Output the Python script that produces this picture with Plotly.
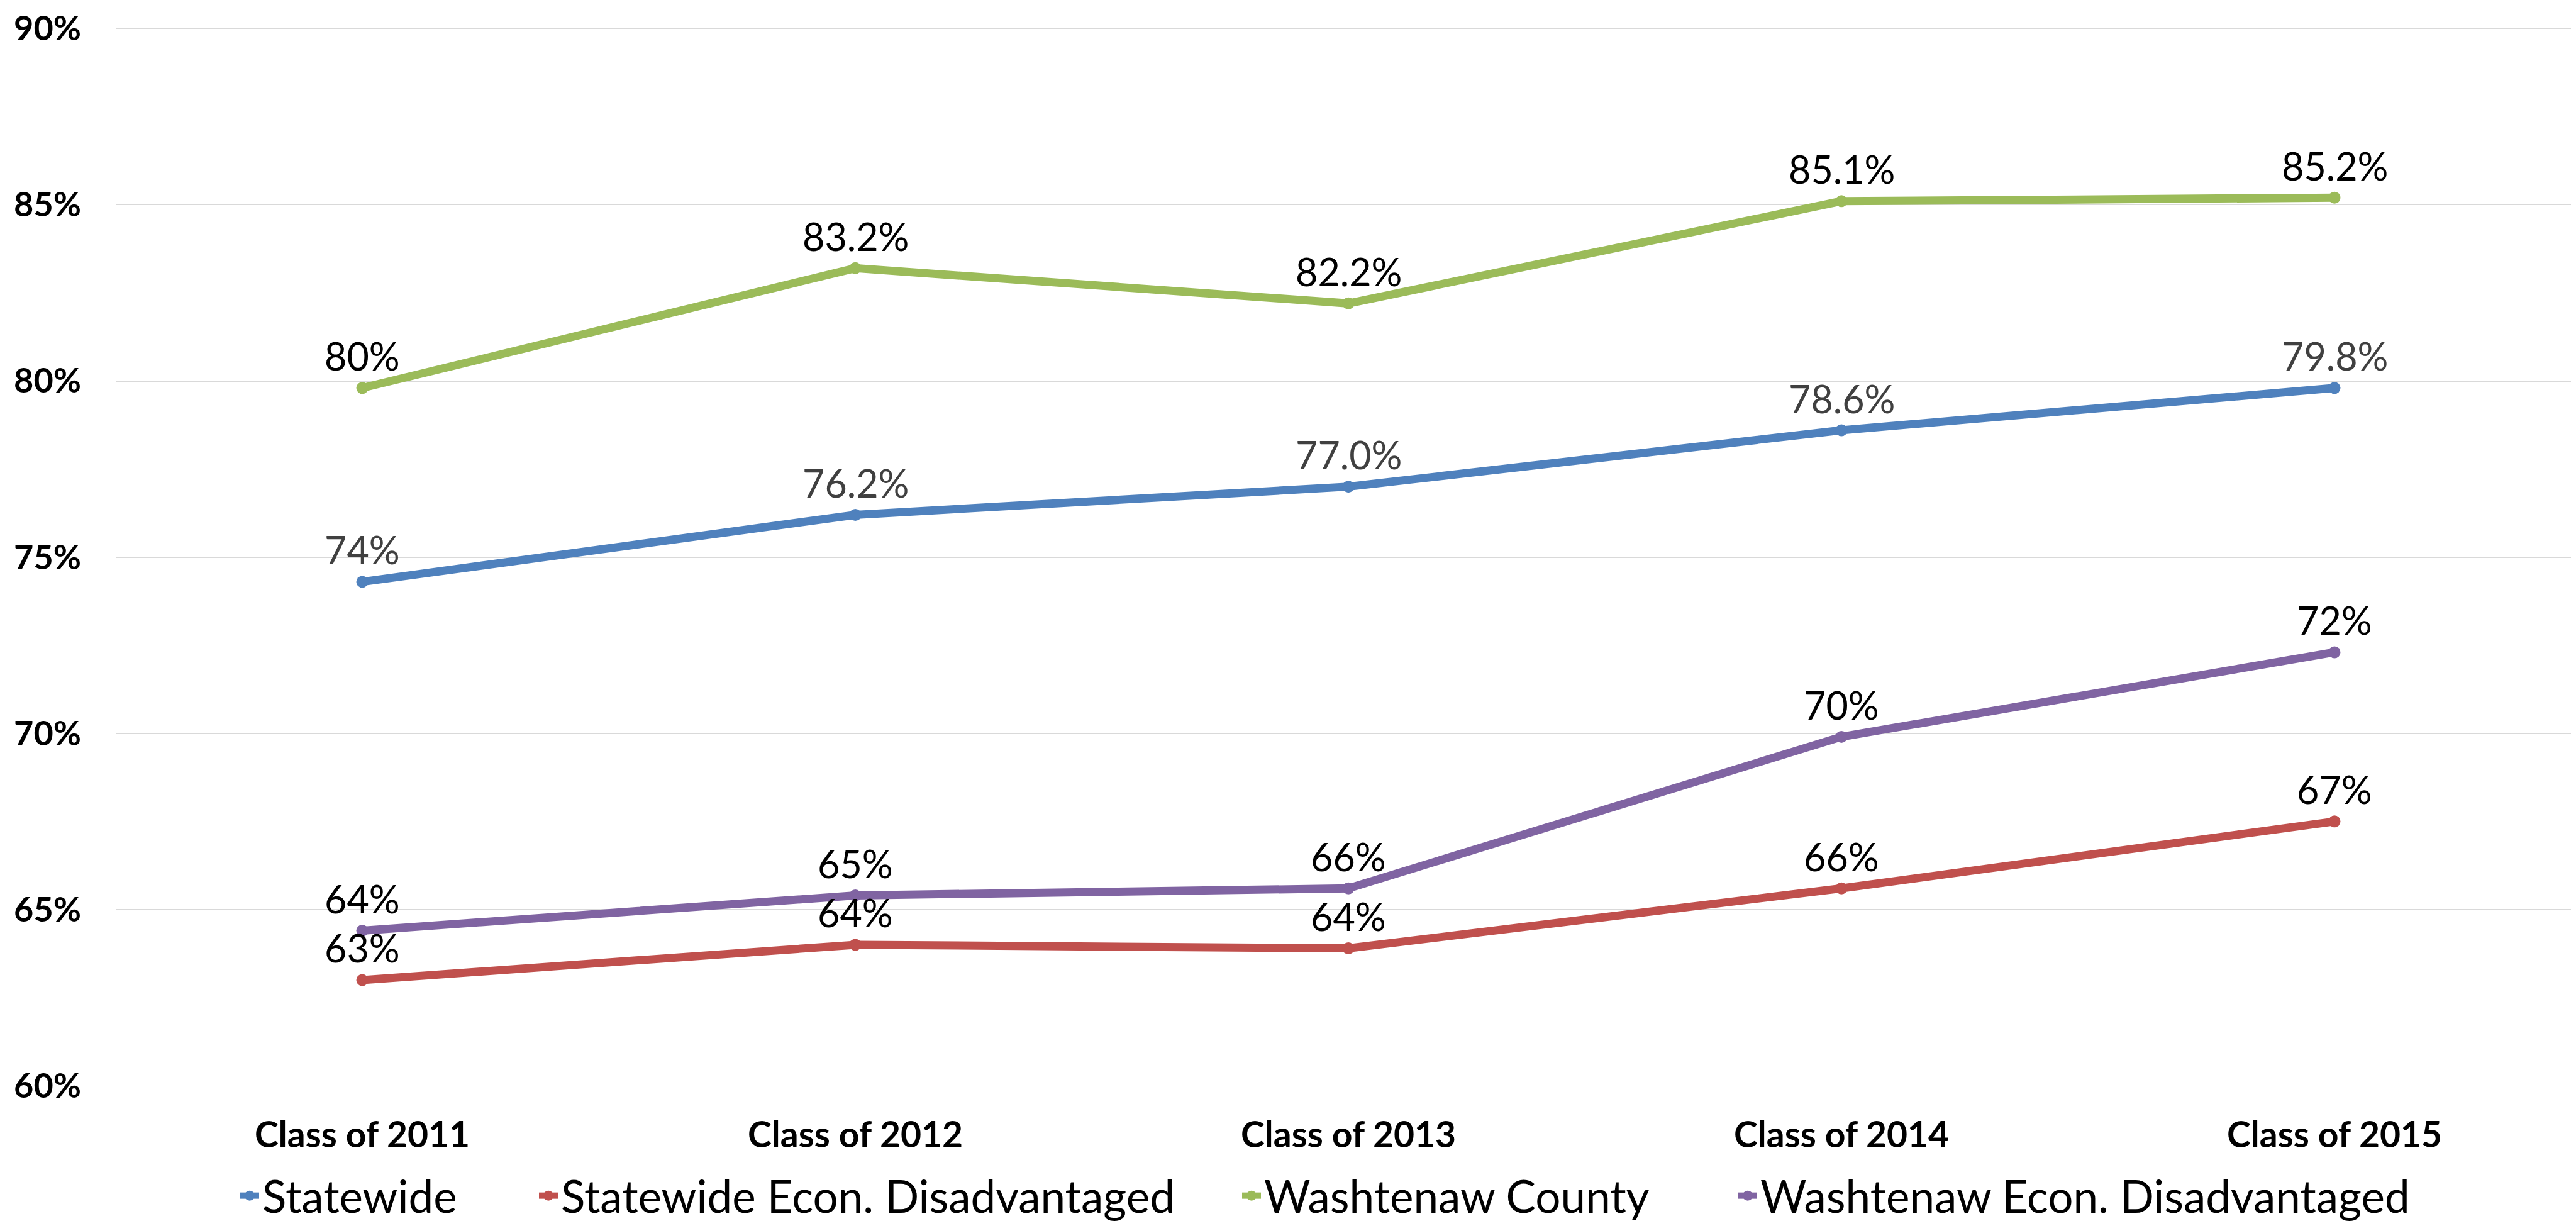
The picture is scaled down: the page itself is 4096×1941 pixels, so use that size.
import plotly.graph_objects as go

categories = ["Class of 2011", "Class of 2012", "Class of 2013", "Class of 2014", "Class of 2015"]

statewide = [74.3, 76.2, 77.0, 78.6, 79.8]
statewide_labels = ["74%", "76.2%", "77.0%", "78.6%", "79.8%"]

statewide_econ = [63.0, 64.0, 63.9, 65.6, 67.5]
statewide_econ_labels = ["63%", "64%", "64%", "66%", "67%"]

washtenaw = [79.8, 83.2, 82.2, 85.1, 85.2]
washtenaw_labels = ["80%", "83.2%", "82.2%", "85.1%", "85.2%"]

washtenaw_econ = [64.4, 65.4, 65.6, 69.9, 72.3]
washtenaw_econ_labels = ["64%", "65%", "66%", "70%", "72%"]

series_names = ["Statewide", "Statewide Econ. Disadvantaged", "Washtenaw County", "Washtenaw Econ. Disadvantaged"]
series_values = [statewide, statewide_econ, washtenaw, washtenaw_econ]
series_labels = [statewide_labels, statewide_econ_labels, washtenaw_labels, washtenaw_econ_labels]
colors = ["#4F81BD", "#C0504D", "#9BBB59", "#8064A2"]
label_colors = ["#404040", "#000000", "#000000", "#000000"]

y_ticks = [60, 65, 70, 75, 80, 85, 90]
y_tick_text = ["60%", "65%", "70%", "75%", "80%", "85%", "90%"]

FONT = "Lato, 'Open Sans', sans-serif"
W, H = 4096, 1941

legend_x_px = [369, 844, 1962, 2751]
legend_names = ["legend", "legend2", "legend3", "legend4"]

fig = go.Figure()
for i, (name, vals) in enumerate(zip(series_names, series_values)):
    fig.add_trace(go.Scatter(
        x=categories, y=vals, name=name, mode="lines+markers",
        line=dict(color=colors[i], width=13),
        marker=dict(color=colors[i], size=19, symbol="circle"),
        legend=legend_names[i], hoverinfo="skip",
    ))

annotations = []
for i, (vals, labs) in enumerate(zip(series_values, series_labels)):
    for c, v, t in zip(categories, vals, labs):
        annotations.append(dict(
            x=c, y=v, text=t, showarrow=False, xanchor="center", yanchor="middle",
            yshift=51, font=dict(family=FONT, size=61, color=label_colors[i]),
        ))

layout_legends = {}
for i, ln in enumerate(legend_names):
    layout_legends[ln] = dict(
        x=legend_x_px[i] / W, xref="container", xanchor="left",
        y=1 - 1893 / H, yref="container", yanchor="middle",
        orientation="h", bgcolor="rgba(0,0,0,0)", borderwidth=0,
        font=dict(family=FONT, size=71, color="#000000"),
        itemwidth=30,
    )

fig.update_layout(
    width=W, height=H,
    paper_bgcolor="white", plot_bgcolor="white",
    margin=dict(l=176, r=0, t=34, b=223, autoexpand=False),
    showlegend=True,
    annotations=annotations,
    font=dict(family=FONT),
    **layout_legends,
)

fig.update_xaxes(
    type="category", range=[-0.5, 4.5], showgrid=False, showline=False, zeroline=False,
    ticks="", tickfont=dict(family=FONT, size=57, color="#000000", weight="bold"),
    ticklabelstandoff=40,
)
fig.update_yaxes(
    range=[60, 90.06], tickvals=y_ticks, ticktext=y_tick_text,
    showgrid=True, gridcolor="#D9D9D9", gridwidth=1.5, zeroline=False, showline=False,
    ticks="", tickfont=dict(family=FONT, size=54, color="#000000", weight="bold"),
    ticklabelstandoff=54,
)

fig.write_html("out.html")
